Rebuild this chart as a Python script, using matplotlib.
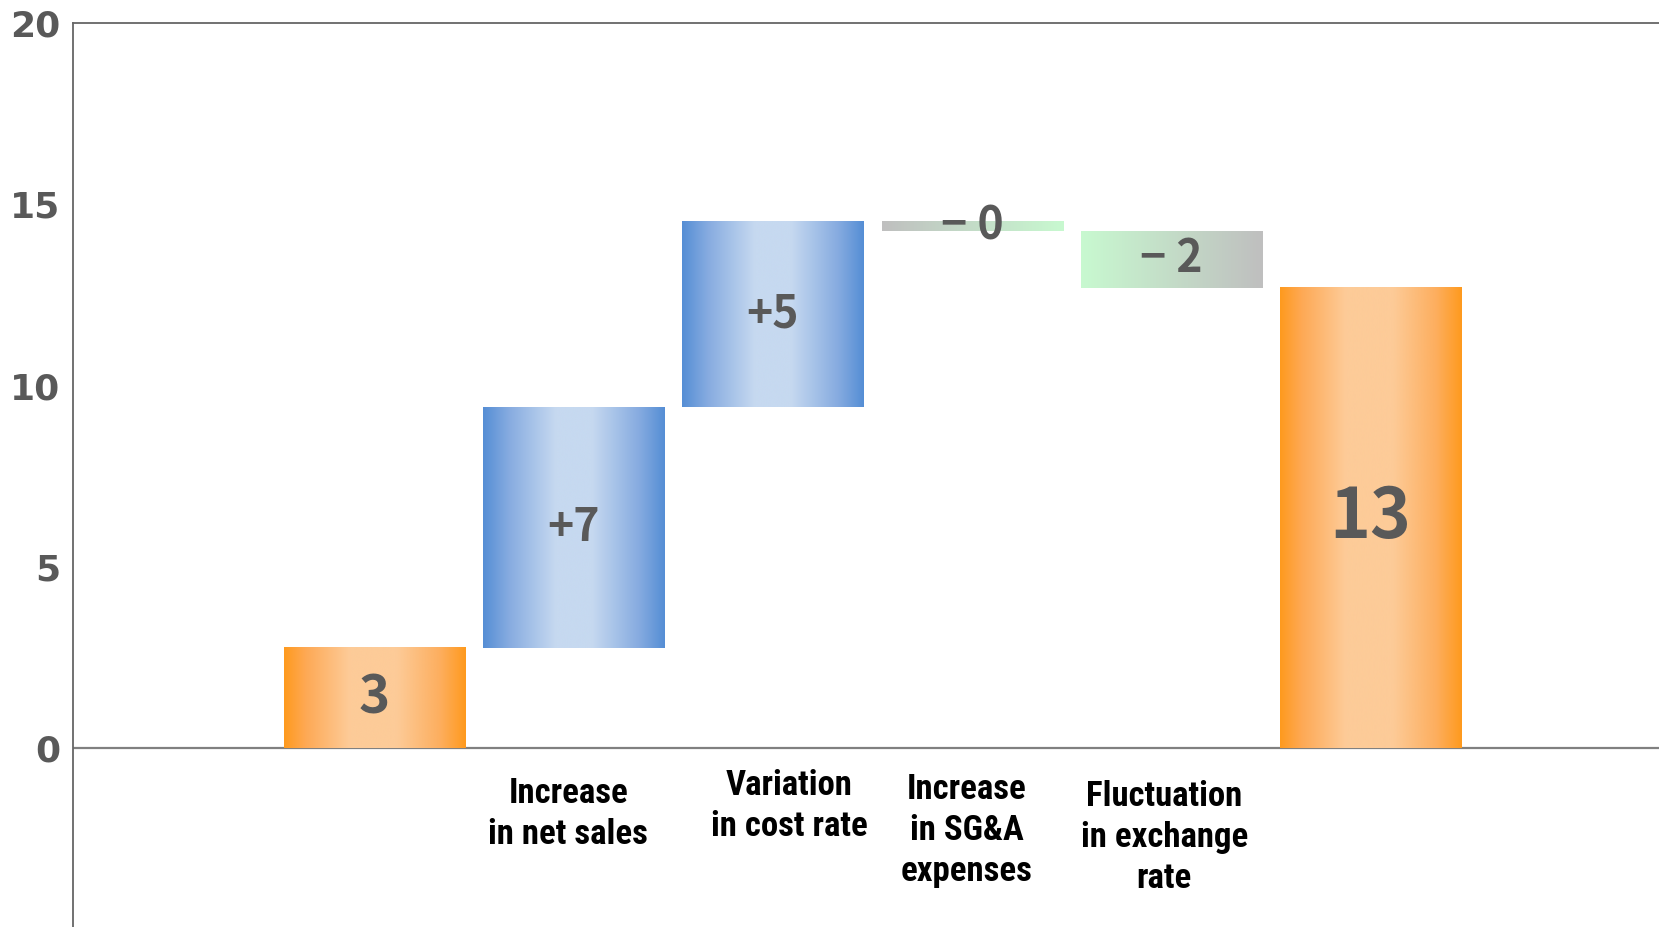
import numpy as np
import matplotlib
matplotlib.use('Agg')
import matplotlib.pyplot as plt
from matplotlib.colors import LinearSegmentedColormap

# operating income bridge
start_value = 2.77
changes = [6.63, 5.12, -0.25, -1.57]
categories = ['', 'Increase\nin net sales', 'Variation\nin cost rate',
              'Increase\nin SG&A\nexpenses', 'Fluctuation\nin exchange\nrate', '']
y_ticks = [0, 5, 10, 15, 20]

end_value = start_value + sum(changes)
levels = np.cumsum([start_value] + changes)
bottoms = [0] + list(levels[:-1]) + [0]
heights = [start_value] + changes + [end_value]

orange = LinearSegmentedColormap.from_list(
    'orange', [(0, '#ff9a1e'), (0.12, '#fea955'), (0.36, '#fdcb98'),
               (0.62, '#fdcb98'), (0.86, '#fdae5e'), (1, '#ff9a1e')])
blue = LinearSegmentedColormap.from_list(
    'blue', [(0, '#558ed5'), (0.14, '#86abe0'), (0.4, '#c6d9f0'),
             (0.6, '#c6d9f0'), (0.86, '#86abe0'), (1, '#558ed5')])
gray_green = LinearSegmentedColormap.from_list('gg', ['#bfbfbf', '#c8f9d0'])
green_gray = LinearSegmentedColormap.from_list('gg2', ['#c8f9d0', '#bfbfbf'])
bar_cmaps = [orange, blue, blue, gray_green, green_gray, orange]

# label nudges in points
label_offsets = [(0, 0), (-4, -21), (12, -15), (-4, -18), (-5, -23), (0, 0)]

fig = plt.figure(figsize=(16.59, 9.27), dpi=100)
ax = fig.add_axes([0.044, 0.0, 0.956, 0.975])

x = np.arange(len(heights))
bars = ax.bar(x, heights, bottom=bottoms, width=0.909, color='none',
              edgecolor='none', zorder=2)

grad = np.linspace(0, 1, 256).reshape(1, -1)
for bar, cmap in zip(bars, bar_cmaps):
    x0, y0 = bar.get_x(), bar.get_y()
    w, h = bar.get_width(), bar.get_height()
    ax.imshow(grad, cmap=cmap, aspect='auto', interpolation='bicubic',
              extent=(x0, x0 + w, min(y0, y0 + h), max(y0, y0 + h)), zorder=2)


def fmt(v, signed):
    n = int(round(abs(v)))
    if not signed:
        return str(n)
    return ('+' if v > 0 else '− ') + str(n)


value_font = ['Noto Sans CJK JP', 'DejaVu Sans']
for i, (b, h) in enumerate(zip(bottoms, heights)):
    signed = 0 < i < len(heights) - 1
    size = 32
    if i == 0:
        size = 38
    elif i == len(heights) - 1:
        size = 50
    ax.text(i, b + h / 2, fmt(h, signed), ha='center', va='center',
            fontsize=size, fontweight='bold', color='#595959',
            family=value_font, zorder=4)

# category names under the zero line
for i, (name, off) in enumerate(zip(categories, label_offsets)):
    if not name:
        continue
    ax.annotate(name, (i, 0), xytext=off, textcoords='offset points',
                ha='center', va='top', fontsize=25, fontweight='bold',
                color='black', family=['Roboto Condensed', 'DejaVu Sans'],
                linespacing=1.3)

ax.axhline(0, color='#808080', lw=1.6, zorder=1)

ax.set_xlim(-1.514, 6.449)
ax.set_ylim(-4.93, 20)
ax.set_yticks(y_ticks)
ax.set_yticklabels([str(t) for t in y_ticks], fontsize=26, fontweight='bold',
                   color='#595959', family='DejaVu Sans')
ax.set_xticks([])
ax.tick_params(axis='y', length=0, pad=9)

for side in ['right', 'bottom']:
    ax.spines[side].set_visible(False)
for side in ['left', 'top']:
    ax.spines[side].set_color('#666666')
    ax.spines[side].set_linewidth(1.3)

fig.savefig('out.png', dpi=100)
